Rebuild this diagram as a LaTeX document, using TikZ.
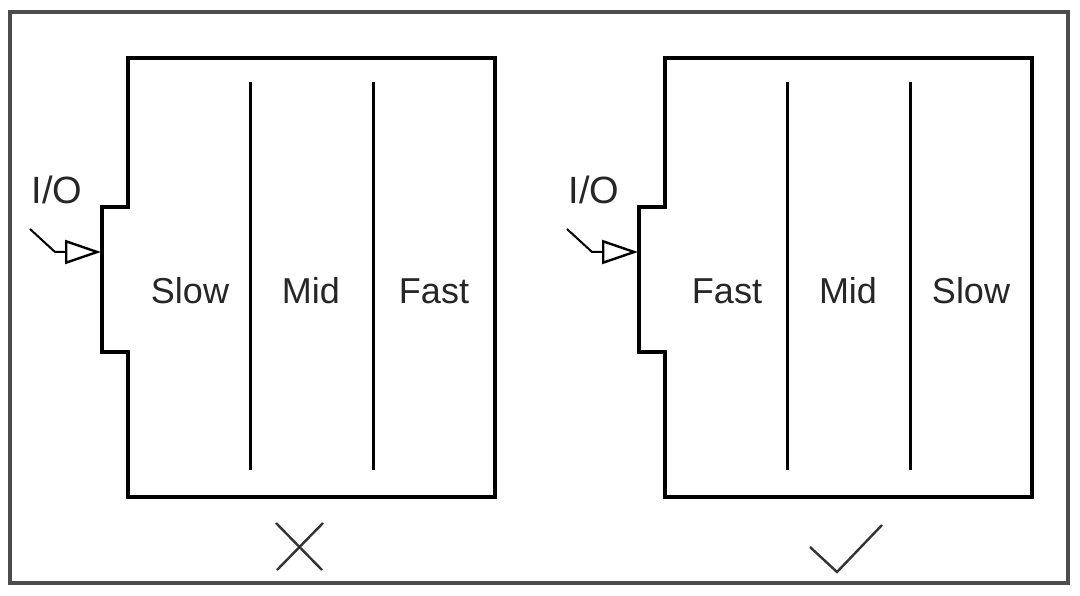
\documentclass[tikz,border=0pt]{standalone}
\usepackage{fontspec}
\setmainfont{Liberation Sans}
\usetikzlibrary{arrows.meta}
\begin{document}
\begin{tikzpicture}[x=1pt,y=-1pt,
  frame/.style={draw=black!70,line width=4pt},
  shell/.style={draw=black,line width=3.2pt,line join=miter},
  divider/.style={draw=black,line width=3pt},
  lbl/.style={font=\fontsize{36}{40}\selectfont,inner sep=0pt,text=black!85},
  ioarrow/.style={line width=2pt,-{Triangle[open,length=36pt,width=24pt,line width=2.4pt]}},
  verdict/.style={line width=2.4pt,draw=black!80}]
\useasboundingbox (0,0) rectangle (1080,596);
\draw[frame] (10,12) rectangle (1068,583);
\foreach \ox/\la/\lb/\lc/\nm in {0/Slow/Mid/Fast/L,537/Fast/Mid/Slow/R}{
  \begin{scope}[xshift=\ox]
    \draw[shell] (128,58) -- (495,58) -- (495,497) -- (128,497) -- (128,352) -- (102,352) -- (102,207) -- (128,207) -- cycle;
    \coordinate (\nm d1t) at (250,82); \coordinate (\nm d1b) at (250,470);
    \coordinate (\nm d2t) at (373,82); \coordinate (\nm d2b) at (373,470);
    \draw[divider] (\nm d1t) -- (\nm d1b);
    \draw[divider] (\nm d2t) -- (\nm d2b);
    \node[lbl] (\nm a) at (190,291) {\la};
    \node[lbl] (\nm b) at (311,291) {\lb};
    \node[lbl] (\nm c) at (434,291) {\lc};
    \node[lbl,font=\fontsize{38}{42}\selectfont] (\nm io) at (57,190) {I/O};
    \coordinate (\nm s) at (30,229);
    \coordinate (\nm m) at (55,252);
    \coordinate (\nm e) at (101,252);
    \draw[ioarrow] (\nm s) -- (\nm m) -- (\nm e);
  \end{scope}
}
\coordinate (x1) at (276,523); \coordinate (x2) at (322,570);
\coordinate (x3) at (323,523); \coordinate (x4) at (277,570);
\draw[verdict] (x1) -- (x2) (x3) -- (x4);
\coordinate (c1) at (810,547); \coordinate (c2) at (837,572); \coordinate (c3) at (882,525);
\draw[verdict] (c1) -- (c2) -- (c3);
\end{tikzpicture}
\end{document}
